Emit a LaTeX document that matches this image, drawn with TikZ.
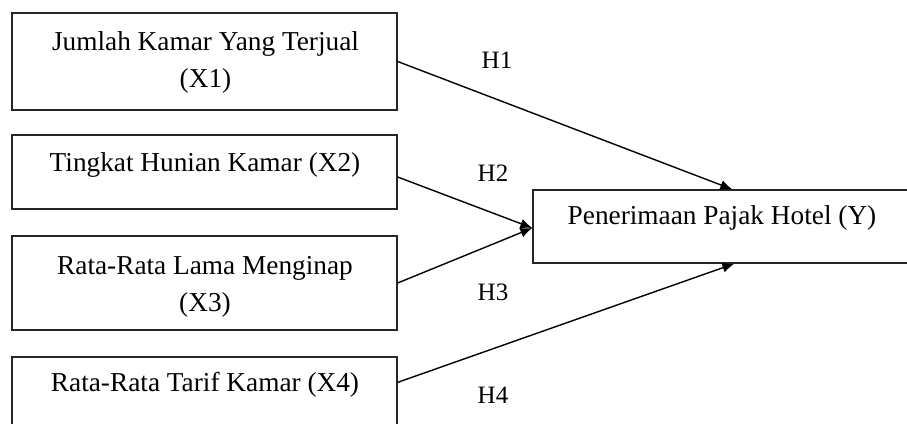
\documentclass[tikz,border=0pt]{standalone}
\usepackage{fontspec}
\setmainfont{Liberation Serif}
\usetikzlibrary{arrows.meta,calc}
\begin{document}
\begin{tikzpicture}[x=1pt,y=-1pt,
  box/.style={draw=black!85,line width=1.3pt,minimum width=385pt,inner sep=0pt},
  txt/.style={font=\fontsize{27.3}{37}\selectfont,align=center,inner sep=0pt},
  hyp/.style={font=\fontsize{25}{30}\selectfont,inner sep=0pt},
  conn/.style={line width=1.4pt,-{Latex[length=12pt,width=10pt]}}]
\useasboundingbox (0,0) rectangle (907,423);
\node[box,minimum height=97pt] (X1) at (204.5,61.5) {};
\node[box,minimum height=74pt] (X2) at (204.5,172) {};
\node[box,minimum height=94pt] (X3) at (204.5,283) {};
\node[box,minimum height=90pt] (X4) at (204.5,402) {};
\node[box,minimum width=480pt,minimum height=73pt] (Y) at (773,226.5) {};
\node[txt] (t1) at (205.5,62) {Jumlah Kamar Yang Terjual\\(X1)};
\node[txt] (t2) at (205,165) {Tingkat Hunian Kamar (X2)};
\node[txt] (t3) at (205,286.5) {Rata-Rata Lama Menginap\\(X3)};
\node[txt] (t4) at (205,385) {Rata-Rata Tarif Kamar (X4)};
\node[txt] (ty) at (722,218) {Penerimaan Pajak Hotel (Y)};
\coordinate (Yn) at ($(Y.north west)+(200,0)$);
\coordinate (Ys) at ($(Y.south west)+(202,0)$);
\coordinate (Yw) at ($(Y.west)+(0,1.5)$);
\draw[conn] (X1.east) -- (Yn);
\draw[conn] ($(X2.east)+(0,5)$) -- (Yw);
\draw[conn] (X3.east) -- (Yw);
\draw[conn] ($(X4.north east)+(0,26)$) -- (Ys);
\node[hyp] (h1) at (497,60) {H1};
\node[hyp] (h2) at (493,173) {H2};
\node[hyp] (h3) at (493,292) {H3};
\node[hyp] (h4) at (493,395) {H4};
\end{tikzpicture}
\end{document}
